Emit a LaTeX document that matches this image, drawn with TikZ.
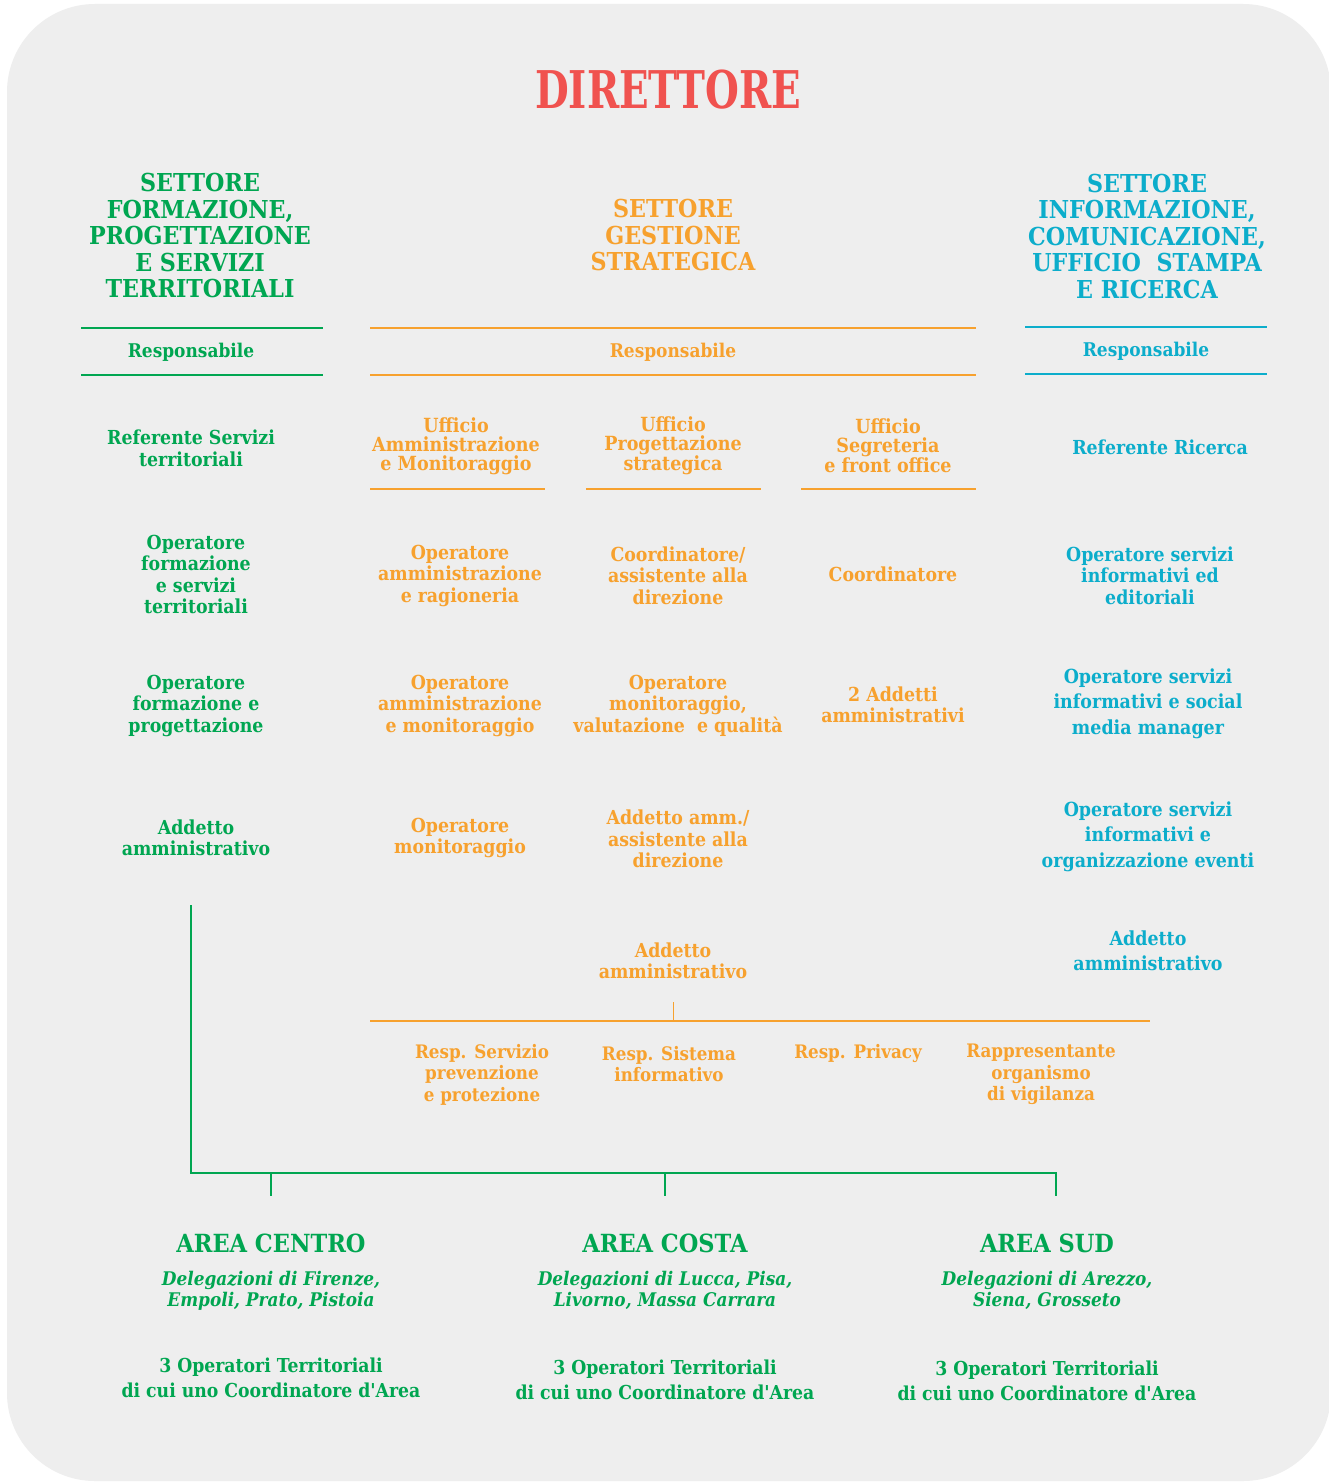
\documentclass[tikz,border=0pt]{standalone}
\usepackage{fontspec}
\setmainfont{DejaVu Serif}
\newfontfamily\cond{DejaVu Serif Condensed}
\newfontfamily\titlef[FakeStretch=0.83]{DejaVu Serif Condensed}
\definecolor{bgc}{HTML}{EEEEEE}
\definecolor{cred}{HTML}{F0524F}
\definecolor{cgreen}{HTML}{00A651}
\definecolor{corange}{HTML}{F7A12E}
\definecolor{ccyan}{HTML}{0CADCB}
\tikzset{
  base/.style={align=center, inner sep=0pt, font=\cond\bfseries\fontsize{19.3}{21.5}\selectfont},
  gt/.style={base, text=cgreen},
  ot/.style={base, text=corange},
  ct/.style={base, text=ccyan},
  wide/.style={font=\cond\bfseries\fontsize{19.4}{25.5}\selectfont},
  office/.style={font=\cond\bfseries\fontsize{19.5}{19}\selectfont},
  head/.style={font=\cond\bfseries\fontsize{24.7}{26.5}\selectfont},
  resp/.style={font=\cond\bfseries\fontsize{18.9}{20}\selectfont},
  sub/.style={font=\cond\bfseries\fontsize{18.6}{21.5}\selectfont},
  area/.style={font=\cond\bfseries\fontsize{25}{28}\selectfont},
  deleg/.style={font=\cond\bfseries\itshape\fontsize{18.8}{21}\selectfont},
  ops/.style={font=\cond\bfseries\fontsize{19.2}{25}\selectfont},
  rule/.style={line width=1.4pt},
  conn/.style={line width=1.8pt}
}
\begin{document}
\begin{tikzpicture}[x=1pt,y=-1pt]
\useasboundingbox (0,0) rectangle (1328,1482);
\fill[white] (0,0) rectangle (1328,1482);
\fill[bgc, rounded corners=88pt] (7,4) rectangle (1331,1481);

% title
\node[base, text=cred, font=\titlef\bfseries\fontsize{52}{56}\selectfont] (dir) at (668,90) {DIRETTORE};

% headers
\node[gt, head] (hg) at (200,236) {SETTORE\\FORMAZIONE,\\PROGETTAZIONE\\E SERVIZI\\TERRITORIALI};
\node[ot, head] (ho) at (673,235.5) {SETTORE\\GESTIONE\\STRATEGICA};
\node[ct, head] (hc) at (1147,236.5) {SETTORE\\INFORMAZIONE,\\COMUNICAZIONE,\\UFFICIO~ STAMPA\\E RICERCA};

% responsabile rules
\draw[rule, cgreen] (81,328) -- (323,328) (81,375) -- (323,375);
\draw[rule, corange] (370,328) -- (976,328) (370,375) -- (976,375);
\draw[rule, ccyan] (1025,327) -- (1267,327) (1025,374) -- (1267,374);
\node[gt, resp] (rg) at (191,352) {Responsabile};
\node[ot, resp] (ro) at (673,352) {Responsabile};
\node[ct, resp] (rc) at (1146,351) {Responsabile};

% offices
\node[ot, office] (u1) at (456,446) {Ufficio\\Amministrazione\\e Monitoraggio};
\node[ot, office] (u2) at (673,446) {Ufficio\\Progettazione\\strategica};
\node[ot, office] (u3) at (888,446) {Ufficio\\Segreteria\\e front office};
\draw[rule, corange] (370,489) -- (545,489) (586,489) -- (761,489) (801,489) -- (976,489);
\node[gt] (g1) at (191,448.5) {Referente Servizi\\territoriali};
\node[ct] (c1) at (1160,447) {Referente Ricerca};

% row 2
\node[gt] (g2) at (196,574.5) {Operatore\\formazione\\e servizi\\territoriali};
\node[ot] (a2) at (460,575.5) {Operatore\\amministrazione\\e ragioneria};
\node[ot] (b2) at (678,575.5) {Coordinatore/\\assistente alla\\direzione};
\node[ot] (d2) at (893,574) {Coordinatore};
\node[ct] (c2) at (1150,575.5) {Operatore servizi\\informativi ed\\editoriali};

% row 3
\node[gt] (g3) at (196,705.5) {Operatore\\formazione e\\progettazione};
\node[ot] (a3) at (460,705.5) {Operatore\\amministrazione\\e monitoraggio};
\node[ot] (b3) at (678,705.5) {Operatore\\monitoraggio,\\valutazione~ e qualità};
\node[ot] (d3) at (893,705) {2 Addetti\\amministrativi};
\node[ct, wide] (c3) at (1148,703.5) {Operatore servizi\\informativi e social\\media manager};

% row 4
\node[gt] (g4) at (196,838) {Addetto\\amministrativo};
\node[ot] (a4) at (460,838) {Operatore\\monitoraggio};
\node[ot] (b4) at (678,839) {Addetto amm./\\assistente alla\\direzione};
\node[ct, wide] (c4) at (1148,836.5) {Operatore servizi\\informativi e\\organizzazione eventi};

% row 5
\node[ot] (b5) at (673,961) {Addetto\\amministrativo};
\node[ct, font=\cond\bfseries\fontsize{19.4}{25}\selectfont] (c5) at (1148,950.5) {Addetto\\amministrativo};

% orange staff tree
\coordinate (ob) at (673,1002);
\coordinate (oj) at (673,1021);
\coordinate (ol) at (370,1021);
\coordinate (or) at (1150,1021);
\draw[line width=0.8pt, corange] (ob) -- (oj);
\draw[conn, corange] (ol) -- (or);
\node[ot, sub] (s1) at (482,1074.5) {Resp. Servizio\\prevenzione\\e protezione};
\node[ot, sub] (s2) at (669,1064) {Resp. Sistema\\informativo};
\node[ot, sub] (s3) at (858,1053) {Resp. Privacy};
\node[ot, sub] (s4) at (1041,1074.5) {Rappresentante\\organismo\\di vigilanza};

% areas
\node[gt, area] (ar1) at (271,1243) {AREA CENTRO};
\node[gt, area] (ar2) at (665,1243) {AREA COSTA};
\node[gt, area] (ar3) at (1047,1243) {AREA SUD};
\node[gt, deleg] (de1) at (271,1290.5) {Delegazioni di Firenze,\\Empoli, Prato, Pistoia};
\node[gt, deleg] (de2) at (665,1290.5) {Delegazioni di Lucca, Pisa,\\Livorno, Massa Carrara};
\node[gt, deleg] (de3) at (1047,1290.5) {Delegazioni di Arezzo,\\Siena, Grosseto};
\node[gt, ops] (op1) at (271,1377.5) {3 Operatori Territoriali\\di cui uno Coordinatore d'Area};
\node[gt, ops] (op2) at (665,1379.5) {3 Operatori Territoriali\\di cui uno Coordinatore d'Area};
\node[gt, ops] (op3) at (1047,1380.5) {3 Operatori Territoriali\\di cui uno Coordinatore d'Area};

% green area tree
\coordinate (gtop) at (191,905);
\coordinate (gcorner) at (191,1173);
\coordinate (gend) at (1056,1173);
\coordinate (gj1) at (271,1173);
\coordinate (gj2) at (665,1173);
\coordinate (gd1) at (271,1196);
\coordinate (gd2) at (665,1196);
\coordinate (gd3) at (1056,1196);
\draw[conn, cgreen] (gtop) -- (gcorner) -- (gend) -- (gd3);
\draw[line width=1.2pt, cgreen] (gj1) -- (gd1) (gj2) -- (gd2);
\end{tikzpicture}
\end{document}
